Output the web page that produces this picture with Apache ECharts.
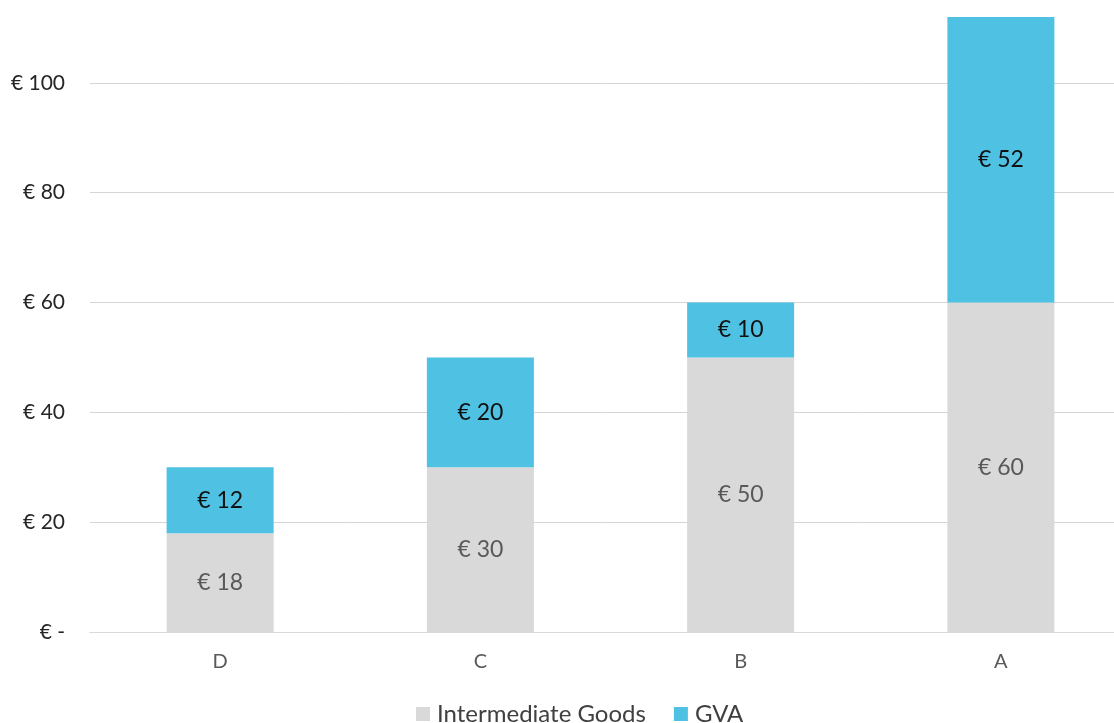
<!DOCTYPE html>
<html>
<head>
<meta charset="utf-8">
<script src="https://cdn.jsdelivr.net/npm/echarts@6/dist/echarts.min.js"></script>
<style>
	html, body { margin: 0; padding: 0; background: #fff; }
	#chart { width: 1114px; height: 723px; }
</style>
</head>
<body>
<div id="chart"></div>
<script>
const categories = ['D', 'C', 'B', 'A'];
const intermediateGoods = [18, 30, 50, 60];
const gva = [12, 20, 10, 52];
const yTicks = [0, 20, 40, 60, 80, 100, 120];

const euro = (v) => (v === 0 ? '€ -' : '€ ' + v);

var myChart = echarts.init(document.getElementById('chart'));
var option = {
	animation: false,
	textStyle: { fontFamily: 'Lato' },
	// top/right pushed outside so the 120 line and the right edge are cut off
	grid: { left: 90, right: -17, top: -27, bottom: 91, outerBoundsMode: 'none', containLabel: false },
	legend: {
		bottom: -8,
		left: 411,
		itemWidth: 14,
		itemHeight: 14,
		itemGap: 28,
		icon: 'rect',
		textStyle: { fontSize: 24, color: '#404040', fontFamily: 'Lato', padding: [0, 0, 0, 2] },
		data: ['Intermediate Goods', 'GVA'],
	},
	xAxis: {
		type: 'category',
		data: categories,
		axisLine: { lineStyle: { color: '#d9d9d9', width: 1 } },
		axisTick: { show: false },
		axisLabel: { fontSize: 20, color: '#595959', margin: 20 },
	},
	yAxis: {
		type: 'value',
		min: yTicks[0],
		max: yTicks[yTicks.length - 1],
		interval: 20,
		axisLine: { show: false },
		axisTick: { show: false },
		splitLine: { lineStyle: { color: '#d4d4d4', width: 1 } },
		axisLabel: {
			fontSize: 21,
			color: '#262626',
			margin: 25,
			formatter: euro,
		},
	},
	series: [
		{
			name: 'Intermediate Goods',
			type: 'bar',
			stack: 'total',
			barWidth: 107,
			data: intermediateGoods,
			itemStyle: { color: '#d9d9d9' },
			label: {
				show: true,
				position: 'inside',
				fontSize: 23,
				color: '#595959',
				fontFamily: 'Lato',
				formatter: (p) => euro(p.value),
			},
		},
		{
			name: 'GVA',
			type: 'bar',
			stack: 'total',
			barWidth: 107,
			data: gva,
			itemStyle: { color: '#4fc1e3' },
			label: {
				show: true,
				position: 'inside',
				fontSize: 23,
				color: '#111',
				fontFamily: 'Lato',
				formatter: (p) => euro(p.value),
			},
		},
	],
};
option && myChart.setOption(option);
</script>
</body>
</html>
